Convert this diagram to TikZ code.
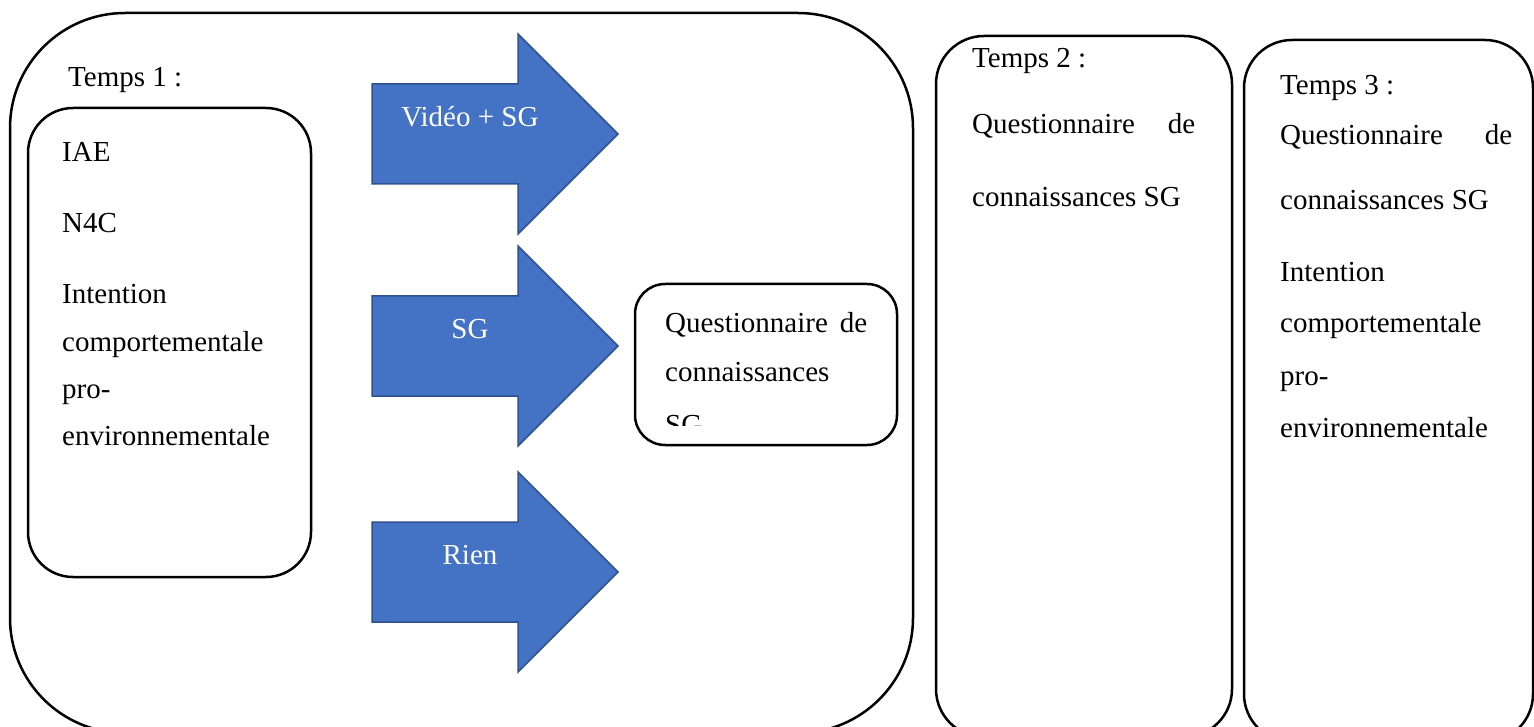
\documentclass[tikz,border=0pt]{standalone}
\usepackage{fontspec}
\setmainfont{Liberation Serif}
\definecolor{arrowfill}{HTML}{4472C4}
\definecolor{arrowline}{HTML}{2F528F}
\tikzset{
  frame/.style={draw=black, line width=2.5pt},
  bigarrow/.style={fill=arrowfill, draw=arrowline, line width=1.5pt, line join=miter},
  txt/.style={anchor=base west, inner sep=0pt, font=\fontsize{29}{47}\selectfont},
  arrowtxt/.style={anchor=base, inner sep=0pt, text=white, font=\fontsize{29}{47}\selectfont}
}
\begin{document}
\begin{tikzpicture}[x=1pt,y=-1pt]
\useasboundingbox (0,0) rectangle (1534,727);
\clip (0,0) rectangle (1534,727);
\fill[white] (0,0) rectangle (1534,727);

% outer boxes
\draw[frame, rounded corners=115pt] (10,13) rectangle (913,733);
\draw[frame, rounded corners=48pt] (936,36) rectangle (1232,737);
\draw[frame, rounded corners=48pt] (1244,40) rectangle (1533,742);

% inner boxes
\draw[frame, rounded corners=45pt] (28,108) rectangle (311,577);
\draw[frame, rounded corners=30pt] (635,284) rectangle (897,445);

% arrows
\foreach \c in {134,346,572}{
  \draw[bigarrow] (372,\c-50) -- (518,\c-50) -- (518,\c-100) -- (618,\c)
    -- (518,\c+100) -- (518,\c+50) -- (372,\c+50) -- cycle;
}
\node[arrowtxt] (a1) at (470,127) {Vidéo + SG};
\node[arrowtxt] (a2) at (470,338) {SG};
\node[arrowtxt] (a3) at (470,564) {Rien};

% Temps 1
\node[txt] (t1) at (68,87) {Temps 1 :};
\node[txt] (iae) at (62,162) {IAE};
\node[txt] (n4c) at (62,233) {N4C};
\node[txt] (i1) at (62,304) {Intention};
\node[txt] (i2) at (62,351) {comportementale};
\node[txt] (i3) at (62,398) {pro-};
\node[txt] (i4) at (62,445) {environnementale};

% middle box text
\node[txt] (q1) at (665,332) {\makebox[202pt][s]{Questionnaire de}};
\node[txt] (q2) at (665,381) {connaissances};
\begin{scope}
\clip (635,284) rectangle (897,425);
\node[txt] (q3) at (665,434) {SG};
\end{scope}

% Temps 2
\node[txt] (t2) at (972,68) {Temps 2 :};
\node[txt] (t2q1) at (972,134) {\makebox[223pt][s]{Questionnaire de}};
\node[txt] (t2q2) at (972,207) {connaissances SG};

% Temps 3
\node[txt] (t3) at (1280,95) {Temps 3 :};
\node[txt] (t3q1) at (1280,145) {\makebox[232pt][s]{Questionnaire de}};
\node[txt] (t3q2) at (1280,210) {connaissances SG};
\node[txt] (t3i1) at (1280,282) {Intention};
\node[txt] (t3i2) at (1280,332) {comportementale};
\node[txt] (t3i3) at (1280,385) {pro-};
\node[txt] (t3i4) at (1280,437) {environnementale};
\end{tikzpicture}
\end{document}
